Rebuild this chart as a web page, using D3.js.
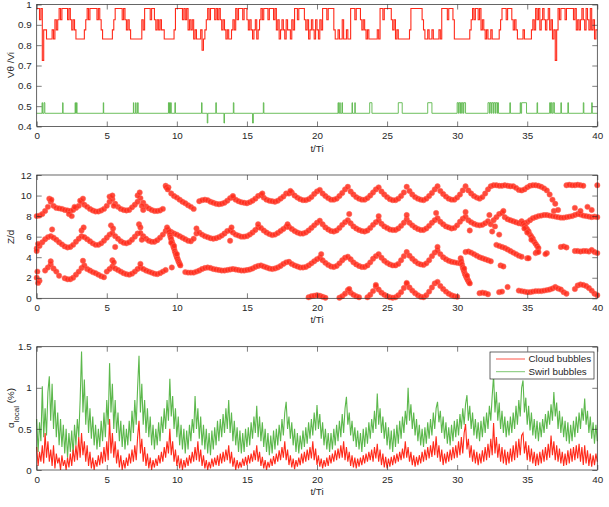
<!DOCTYPE html>
<html>
<head>
<meta charset="utf-8">
<script src="https://cdn.jsdelivr.net/npm/d3@7"></script>
<style>
  body { margin: 0; background: #fff; }
  text { font-family: "Liberation Sans", Arial, sans-serif; }
</style>
</head>
<body>
<div id="wrapper"></div>
<script>
// ---- data ----
const timeTicks = [0, 5, 10, 15, 20, 25, 30, 35, 40]
const velTicks = [0.4, 0.5, 0.6, 0.7, 0.8, 0.9, 1]
const zTicks = [0, 2, 4, 6, 8, 10, 12]
const alphaTicks = [0, 0.5, 1, 1.5]
const legendLabels = ["Cloud bubbles", "Swirl bubbles"]

// top panel, cloud bubbles: level index every 0.1 t/Ti
const velStep = 0.1
const velLevels = [0.83, 0.875, 0.925, 0.98, 0.725, 0.775]
const velCloud = [
  3,3,2,3,4,1,1,0,0,0,
  0,1,0,2,1,2,3,2,3,3,
  3,3,2,3,2,1,2,1,0,0,
  0,0,0,0,1,2,3,2,3,3,
  3,3,3,2,3,2,1,0,0,0,
  0,0,0,0,1,2,3,3,3,3,
  3,2,3,2,1,2,1,0,0,0,
  0,0,0,0,0,2,1,3,3,3,
  3,2,3,3,2,1,2,1,2,1,
  1,0,0,0,0,0,0,0,1,3,
  3,3,3,3,2,3,2,3,1,2,
  1,2,0,1,0,0,0,1,5,0,
  1,2,3,2,3,3,3,2,3,2,
  3,2,1,2,1,0,1,0,0,1,
  2,1,3,2,3,3,3,2,3,3,
  2,1,2,1,0,1,2,0,1,2,
  3,2,3,3,3,2,3,3,3,2,
  3,1,2,0,1,2,1,0,2,1,
  1,0,2,1,3,3,2,3,3,3,
  3,2,1,2,0,1,2,1,0,2,
  1,0,2,1,3,3,3,2,3,3,
  3,3,1,0,0,1,0,0,2,0,
  0,1,0,0,3,3,3,2,3,3,
  3,2,1,2,1,0,1,0,0,0,
  0,0,0,1,0,3,3,2,3,3,
  3,3,3,2,1,2,0,1,0,0,
  0,0,0,0,0,0,1,3,3,3,
  3,3,3,3,3,2,1,0,0,1,
  0,0,1,0,0,0,0,1,0,3,
  3,3,3,2,3,3,3,2,0,0,
  0,0,0,0,0,0,0,0,0,1,
  2,3,2,3,3,2,3,1,2,1,
  0,1,0,0,1,0,0,0,0,0,
  1,2,3,3,3,2,3,3,3,2,
  1,2,1,0,0,0,0,1,0,0,
  0,0,0,1,2,1,3,2,3,1,
  2,3,2,1,2,3,1,2,0,1,
  4,1,3,2,3,3,3,2,3,3,
  3,3,3,2,3,1,2,1,2,3,
  2,1,3,2,1,3,1,2,0,1,
  1
]

// top panel, swirl bubbles: base level with short excursions [start, end]
const swirlBase = 0.465
const swirlHighLevel = 0.517
const swirlLowLevel = 0.417
const swirlHighSpans = [
  [0.38,0.42],[0.52,0.58],[1.85,1.88],[2.74,2.77],[2.84,2.88],[4.75,4.78],
  [6.9,6.93],[7.06,7.09],[7.2,7.24],[9.4,9.44],[9.48,9.52],[9.56,9.6],[9.86,9.9],
  [11.76,11.8],[12.78,12.82],[14.03,14.07],[16.17,16.21],
  [21.5,21.54],[21.62,21.66],[21.78,21.82],[22.5,22.53],[22.7,22.73],[23.76,23.92],
  [25.8,26.08],[27.9,28.2],
  [30.0,30.08],[30.12,30.2],[30.24,30.32],[30.36,30.44],[30.48,30.6],
  [32.2,32.3],[32.34,32.42],[32.46,32.56],[32.6,32.7],[32.74,32.84],[32.88,32.95],
  [33.76,33.8],[34.5,34.54],[34.6,34.95],[35.7,35.74],
  [36.6,36.66],[36.72,36.78],[36.86,36.94],[37.4,37.44],[37.9,37.94],[39.0,39.04],[39.6,39.64]
]
const swirlLowSpans = [[12.17,12.21],[13.36,13.4],[15.4,15.46]]

// middle panel: bubble heights Z/d every 0.2 t/Ti (null = no bubble)
const trackStep = 0.2
const trackA = [
  8.0,8.05,8.2,8.5,8.9,9.4,9.0,8.8,8.75,8.7,
  8.6,8.55,8.5,8.6,8.8,9.0,9.4,9.1,8.9,8.7,
  8.55,8.45,8.45,8.55,8.7,9.0,9.4,9.65,9.2,8.9,
  8.7,8.6,8.55,8.6,8.85,9.1,9.4,9.75,9.3,8.95,
  8.75,8.6,8.5,8.5,8.55,8.7,10.95,10.8,10.2,9.95,
  9.8,9.6,9.4,9.25,9.05,8.9,8.7,null,9.45,9.55,
  9.6,9.55,9.4,9.3,9.2,9.15,9.2,9.3,9.5,9.75,
  9.8,9.6,9.45,9.35,9.3,9.25,9.35,9.5,9.7,9.95,
  10.05,9.8,9.6,9.5,9.45,9.4,9.5,9.7,9.9,10.2,
  10.2,10.3,10.0,9.8,9.65,9.55,9.55,9.65,9.85,10.15,
  10.4,10.55,10.2,9.95,9.75,9.6,9.6,9.7,9.95,10.25,
  10.6,10.85,10.4,10.1,9.85,9.7,9.6,9.6,9.75,10.0,
  10.3,10.6,10.8,10.4,10.1,9.85,9.65,9.55,9.55,9.7,
  9.95,10.3,10.85,10.45,10.1,9.85,9.7,9.6,9.55,9.7,
  9.95,10.25,10.6,10.9,10.45,10.15,9.9,9.7,9.6,9.6,
  9.8,10.1,10.5,10.9,10.5,10.2,9.95,9.8,9.7,9.85,
  10.2,10.6,10.9,11.0,11.0,10.95,10.95,11.0,10.95,10.9,
  10.9,10.75,10.55,10.5,10.6,10.8,10.95,11.0,11.0,10.95,
  10.85,10.7,10.5,10.1,9.6,9.2,null,null,null,11.0,
  11.05,11.0,11.0,11.05,11.0,10.95,null,null,null,null,
  11.0
]
const trackB = [
  4.85,5.1,5.45,5.75,5.95,6.05,5.9,5.7,5.45,5.25,
  5.05,4.95,5.0,5.2,5.5,5.8,6.05,5.95,5.75,5.55,
  5.35,5.2,5.2,5.35,5.6,5.9,6.2,6.35,6.05,5.8,
  5.55,5.4,5.35,5.45,5.7,6.0,6.3,6.35,6.05,5.8,
  5.6,5.5,5.5,5.65,5.9,6.2,6.55,6.65,6.45,6.3,
  6.2,6.05,5.9,5.75,5.6,5.55,5.8,6.3,6.4,6.2,
  6.05,5.95,5.85,5.8,5.85,5.95,6.1,6.3,6.55,6.6,
  6.4,6.2,6.1,6.0,6.0,6.05,6.2,6.4,6.65,6.9,
  6.85,6.6,6.4,6.25,6.15,6.2,6.35,6.55,6.75,6.95,
  6.95,6.75,6.55,6.4,6.3,6.3,6.4,6.6,6.85,7.1,
  7.35,7.55,7.2,6.9,6.7,6.55,6.5,6.6,6.85,7.15,
  7.4,7.6,7.3,7.0,6.8,6.65,6.55,6.5,6.6,6.85,
  7.15,7.4,7.6,7.25,7.0,6.85,6.7,6.65,6.65,6.8,
  7.05,7.35,7.7,7.35,7.1,6.9,6.75,6.65,6.65,6.8,
  7.05,7.35,7.6,7.8,7.45,7.2,7.0,6.9,6.8,6.85,
  7.1,7.45,7.75,7.95,7.6,7.4,7.25,7.15,7.1,7.15,
  7.3,7.5,7.2,7.6,7.9,8.2,8.3,7.9,7.7,7.6,
  7.5,7.4,7.3,7.25,7.3,7.4,7.6,7.8,7.9,8.0,
  8.05,8.1,8.1,8.05,8.0,7.95,7.9,7.85,7.85,7.9,
  7.95,8.0,8.1,8.2,8.15,8.05,8.0,7.95,7.9,7.95,
  7.9
]
const trackC = [
  2.0,1.7,null,2.7,3.0,3.3,2.9,2.6,2.2,null,
  1.95,1.85,1.85,2.0,2.3,2.6,2.95,3.2,2.85,2.7,
  2.55,2.45,2.3,2.15,2.05,2.6,2.85,3.1,2.9,2.75,
  2.6,2.45,2.35,2.3,2.4,2.6,2.85,3.0,2.85,2.7,
  2.6,2.5,2.4,2.35,2.45,2.6,2.75,null,null,null,
  null,null,null,2.55,2.5,2.5,2.5,2.6,2.7,2.85,
  2.95,3.0,2.95,2.85,2.8,2.75,2.7,2.7,2.75,2.8,
  2.85,2.8,2.75,2.7,2.7,2.75,2.8,2.9,3.05,3.15,
  3.2,3.1,3.0,2.9,2.85,2.9,3.0,3.15,3.35,3.5,
  3.55,3.35,3.2,3.1,3.0,3.0,3.05,3.2,3.4,3.6,
  3.8,3.95,3.7,3.45,3.25,3.1,3.05,3.15,3.4,3.7,
  3.95,4.05,3.8,3.5,3.3,3.15,3.05,3.05,3.2,3.5,
  3.85,4.1,4.3,3.95,3.65,3.45,3.3,3.2,3.2,3.35,
  3.7,4.1,4.5,4.15,3.85,3.6,3.4,3.3,3.25,3.4,
  3.7,4.1,4.45,4.65,4.3,4.0,3.8,3.65,3.55,3.5,
  3.45,3.4,null,4.5,4.55,4.45,4.3,4.15,4.0,3.9,
  3.8,3.7,3.6,null,5.2,5.1,5.0,4.9,4.75,4.6,
  4.45,4.3,4.15,4.05,null,3.9,null,null,4.4,null,
  null,null,4.4,null,null,null,null,5.0,5.05,4.95,
  null,null,4.6,4.6,4.55,4.6,4.6,4.55,4.7,4.5,
  4.4
]
const trackD = [
  null,null,null,null,null,null,null,null,null,null,
  null,null,null,null,null,null,null,null,null,null,
  null,null,null,null,null,null,null,null,null,null,
  null,null,null,null,null,null,null,null,null,null,
  null,null,null,null,null,null,null,null,null,null,
  null,null,null,null,null,null,null,null,null,null,
  null,null,null,null,null,null,null,null,null,null,
  null,null,null,null,null,null,null,null,null,null,
  null,null,null,null,null,null,null,null,null,null,
  null,null,null,null,null,null,null,0.1,0.2,0.25,
  0.3,0.25,0.15,0.05,null,null,null,null,0.05,0.2,
  0.45,0.8,0.55,0.35,0.2,0.1,null,null,0.1,0.35,
  0.7,1.15,0.85,0.55,0.35,0.2,0.1,0.05,0.1,0.3,
  0.6,1.0,1.4,1.05,0.75,0.5,0.3,0.15,0.1,0.3,
  0.65,1.05,1.45,1.6,1.2,0.9,0.65,0.45,0.3,0.2,
  0.15,null,null,null,null,null,null,null,0.5,0.55,
  0.5,0.4,null,null,null,0.6,0.65,null,1.1,null,
  null,null,0.75,0.7,0.65,0.6,0.6,0.65,0.7,0.7,
  0.7,0.75,0.8,0.85,0.95,1.1,0.95,0.85,0.6,0.45,
  null,null,0.9,1.25,1.35,1.3,1.2,1.0,0.75,0.45,
  0.3
]
// falling bubbles and scattered detections [t/Ti, Z/d]
const strayPoints = [
  [9.45,6.5],[9.5,6.2],[9.55,5.95],[9.6,5.75],[9.65,5.5],[9.7,5.3],[9.75,5.05],[9.8,4.85],
  [9.85,4.6],[9.9,4.4],[9.95,4.2],[10.0,4.0],[10.05,3.85],[10.1,3.65],[10.15,3.5],[10.2,3.35],
  [10.25,3.2],[9.6,5.4],[9.8,5.1],[10.0,4.3],
  [30.25,3.9],[30.3,3.6],[30.35,3.3],[30.4,3.0],[30.45,2.8],[30.5,2.6],[30.55,2.4],[30.6,2.25],
  [30.65,2.1],[30.7,1.95],[30.75,1.8],[30.8,1.7],[30.85,1.55],[30.9,1.45],[30.5,2.9],[30.7,2.2],
  [34.6,7.5],[34.7,7.3],[34.8,7.1],[34.9,6.9],[35.0,6.7],[35.1,6.5],[35.2,6.2],[35.3,6.0],
  [35.4,5.8],[35.5,5.5],[35.6,5.3],[35.7,5.1],[35.8,4.9],[34.8,6.8],[35.0,6.4],[35.3,5.7],
  [35.7,4.5],[36.3,4.3],
  [0.9,9.7],[1.05,9.6],[2.3,8.2],[2.5,8.0],[2.7,8.9],[3.1,9.5],[3.3,9.7],[5.2,9.9],[5.4,10.0],
  [5.5,9.0],[7.2,10.0],[7.35,10.3],[7.5,9.0],[7.6,8.6],[14.0,9.95],[16.1,10.2],[18.1,10.45],
  [9.25,10.8],[9.35,10.6],
  [0.0,4.6],[0.1,5.3],[1.1,6.7],[3.2,6.6],[3.35,6.9],[5.3,7.1],[5.45,6.8],[5.6,5.0],[7.3,7.2],
  [7.4,6.9],[7.5,5.7],[9.3,6.9],[11.4,6.8],[13.8,5.6],[13.9,6.9],[15.8,7.2],[17.9,7.2],
  [22.3,8.2],[24.4,8.0],[26.4,8.1],[28.5,8.3],[30.6,8.4],[32.3,8.1],[32.5,6.5],[32.7,7.0],
  [33.0,6.2],[33.3,8.5],[36.9,8.5],[37.2,8.6],[38.4,8.8],[38.8,8.5],[39.3,8.9],[39.6,8.6],[30.9,6.6],
  [0.05,2.6],[0.1,1.5],[1.0,3.6],[3.3,3.65],[5.4,3.7],[5.5,3.5],[7.4,3.35],[9.64,3.0],[28.6,5.0],
  [20.3,4.3],[33.1,3.2],[33.3,3.1],[35.1,3.9],[35.8,4.5],
  [22.3,0.9],[24.2,1.3],[26.4,1.5]
]

// bottom panel: local void fraction (%) every 0.1 t/Ti
const alphaStep = 0.1
const alphaSwirl = [
  0.62,0.22,0.58,0.35,1.02,0.4,0.75,0.42,0.95,1.14,
  0.6,1.05,0.5,0.85,0.4,0.7,0.3,0.62,0.28,0.55,
  0.2,0.5,0.15,0.45,0.22,0.48,0.18,0.55,0.3,0.62,
  0.4,0.85,1.44,0.7,1.1,0.55,0.9,0.45,0.75,0.38,
  0.65,0.3,0.55,0.25,0.5,0.28,0.6,0.35,0.7,0.4,
  0.85,0.55,1.3,0.7,1.05,0.5,0.85,0.45,0.7,0.35,
  0.6,0.28,0.55,0.25,0.5,0.3,0.6,0.35,0.72,0.45,
  0.85,0.55,1.0,1.39,0.7,1.05,0.55,0.85,0.45,0.75,
  0.4,0.65,0.3,0.55,0.25,0.5,0.3,0.58,0.35,0.65,
  0.45,0.75,0.5,0.85,0.6,1.11,0.65,0.9,0.5,0.75,
  0.4,0.65,0.3,0.55,0.25,0.5,0.2,0.48,0.25,0.55,
  0.35,0.62,0.45,0.9,0.5,0.75,0.38,0.65,0.3,0.55,
  0.25,0.5,0.2,0.45,0.18,0.48,0.25,0.52,0.3,0.6,
  0.35,0.62,0.4,0.68,0.45,0.75,0.5,0.85,0.45,0.7,
  0.35,0.6,0.3,0.52,0.22,0.48,0.2,0.45,0.22,0.5,
  0.28,0.52,0.3,0.58,0.38,0.65,0.45,0.78,0.4,0.65,
  0.35,0.58,0.28,0.5,0.22,0.45,0.18,0.42,0.2,0.48,
  0.25,0.5,0.3,0.55,0.35,0.62,0.42,0.7,0.83,0.5,
  0.65,0.38,0.58,0.3,0.5,0.22,0.45,0.2,0.42,0.25,
  0.48,0.28,0.52,0.32,0.58,0.38,0.62,0.42,0.7,0.48,
  0.79,0.5,0.68,0.38,0.58,0.3,0.5,0.25,0.45,0.22,
  0.45,0.25,0.5,0.3,0.55,0.35,0.6,0.4,0.68,0.45,
  0.75,0.89,0.55,0.7,0.42,0.6,0.35,0.52,0.28,0.48,
  0.25,0.45,0.22,0.5,0.28,0.52,0.32,0.58,0.38,0.62,
  0.45,0.72,0.5,0.93,0.55,0.75,0.45,0.65,0.38,0.58,
  0.3,0.52,0.25,0.48,0.22,0.5,0.28,0.55,0.32,0.6,
  0.38,0.65,0.45,0.72,0.55,1.0,0.6,0.8,0.5,0.7,
  0.42,0.62,0.35,0.55,0.3,0.5,0.28,0.52,0.32,0.58,
  0.38,0.62,0.42,0.7,0.5,0.75,0.83,0.58,0.72,0.45,
  0.65,0.38,0.58,0.32,0.52,0.3,0.55,0.35,0.6,0.4,
  0.62,0.42,0.68,0.5,0.75,0.55,0.8,0.91,0.6,0.78,
  0.5,0.7,0.42,0.62,0.38,0.58,0.35,0.6,0.4,0.65,
  0.45,0.7,0.5,0.78,0.6,0.9,1.15,0.7,0.95,0.6,
  0.82,0.5,0.72,0.45,0.65,0.4,0.6,0.42,0.65,0.45,
  0.7,0.5,0.78,0.55,0.85,0.65,1.0,1.09,0.7,0.88,
  0.55,0.78,0.48,0.7,0.42,0.62,0.38,0.6,0.35,0.58,
  0.4,0.62,0.45,0.68,0.5,0.72,0.55,0.8,0.6,0.95,
  0.65,0.82,0.5,0.72,0.45,0.65,0.4,0.6,0.35,0.58,
  0.32,0.55,0.35,0.6,0.4,0.65,0.45,0.7,0.5,0.75,
  0.6,0.87,0.55,0.72,0.45,0.65,0.38,0.58,0.32,0.55,
  0.35
]
const alphaCloud = [
  0.28,0.05,0.22,0.1,0.3,0.08,0.45,0.15,0.35,0.1,
  0.25,0.05,0.3,0.02,0.2,0.08,0.15,0.0,0.18,0.05,
  0.12,0.0,0.15,0.03,0.2,0.05,0.25,0.1,0.3,0.12,
  0.4,0.15,0.45,0.18,0.35,0.1,0.3,0.05,0.22,0.02,
  0.15,0.0,0.12,0.04,0.18,0.06,0.22,0.08,0.28,0.1,
  0.35,0.12,0.62,0.2,0.45,0.15,0.35,0.08,0.25,0.03,
  0.18,0.0,0.12,0.02,0.15,0.05,0.2,0.08,0.25,0.1,
  0.3,0.12,0.4,0.6,0.2,0.38,0.1,0.28,0.05,0.2,
  0.02,0.15,0.0,0.12,0.03,0.14,0.05,0.18,0.08,0.22,
  0.1,0.28,0.15,0.35,0.2,0.5,0.18,0.35,0.1,0.25,
  0.05,0.18,0.02,0.14,0.0,0.12,0.03,0.15,0.05,0.18,
  0.08,0.22,0.1,0.28,0.12,0.35,0.1,0.25,0.05,0.18,
  0.02,0.12,0.0,0.1,0.02,0.14,0.04,0.15,0.06,0.18,
  0.05,0.2,0.08,0.22,0.1,0.25,0.12,0.3,0.08,0.22,
  0.04,0.15,0.0,0.12,0.02,0.1,0.03,0.14,0.05,0.16,
  0.06,0.18,0.08,0.2,0.1,0.24,0.12,0.3,0.1,0.22,
  0.05,0.16,0.02,0.12,0.0,0.1,0.03,0.14,0.05,0.17,
  0.07,0.2,0.1,0.24,0.12,0.28,0.15,0.35,0.12,0.25,
  0.06,0.18,0.03,0.14,0.01,0.12,0.04,0.15,0.06,0.2,
  0.08,0.22,0.1,0.25,0.12,0.28,0.14,0.35,0.12,0.26,
  0.06,0.18,0.04,0.14,0.02,0.12,0.04,0.15,0.05,0.18,
  0.08,0.2,0.1,0.24,0.12,0.26,0.14,0.3,0.15,0.35,
  0.12,0.28,0.1,0.22,0.05,0.18,0.03,0.15,0.02,0.14,
  0.04,0.15,0.06,0.18,0.08,0.2,0.1,0.22,0.12,0.25,
  0.1,0.28,0.14,0.32,0.1,0.25,0.06,0.2,0.03,0.16,
  0.02,0.14,0.04,0.16,0.06,0.18,0.08,0.2,0.1,0.22,
  0.12,0.26,0.14,0.35,0.15,0.28,0.1,0.22,0.06,0.18,
  0.04,0.16,0.06,0.18,0.08,0.22,0.1,0.25,0.12,0.28,
  0.14,0.3,0.16,0.35,0.18,0.41,0.15,0.3,0.1,0.25,
  0.06,0.2,0.08,0.22,0.1,0.25,0.12,0.28,0.14,0.3,
  0.15,0.35,0.18,0.4,0.2,0.45,0.56,0.25,0.38,0.15,
  0.3,0.1,0.25,0.08,0.22,0.06,0.2,0.08,0.24,0.1,
  0.28,0.12,0.32,0.15,0.38,0.18,0.57,0.2,0.4,0.15,
  0.32,0.1,0.28,0.08,0.25,0.06,0.22,0.08,0.26,0.1,
  0.3,0.12,0.35,0.15,0.38,0.18,0.42,0.45,0.2,0.35,
  0.12,0.3,0.1,0.26,0.08,0.22,0.05,0.2,0.06,0.22,
  0.08,0.25,0.1,0.28,0.12,0.32,0.15,0.42,0.18,0.35,
  0.12,0.3,0.1,0.26,0.08,0.22,0.05,0.2,0.06,0.24,
  0.08,0.26,0.1,0.28,0.12,0.3,0.14,0.32,0.1,0.28,
  0.06,0.3,0.08,0.24,0.05,0.2,0.04,0.18,0.06,0.2,
  0.1
]

const red = "#ff2a1a"
const green = "#5cb84c"
const axisColor = "#262626"

function drawChart() {

  const dimensions = {
    width: 609,
    height: 507,
    left: 36.7,
    right: 597.3,
    panels: {
      vel: { top: 4.5, bottom: 126.5 },
      z: { top: 175, bottom: 298.3 },
      alpha: { top: 346.7, bottom: 470 },
    },
  }

  const svg = d3.select("#wrapper")
    .append("svg")
      .attr("width", dimensions.width)
      .attr("height", dimensions.height)

  const xScale = d3.scaleLinear()
      .domain([0, 40])
      .range([dimensions.left, dimensions.right])

  const velScale = d3.scaleLinear()
      .domain([0.4, 1])
      .range([dimensions.panels.vel.bottom, dimensions.panels.vel.top])
  const zScale = d3.scaleLinear()
      .domain([0, 12])
      .range([dimensions.panels.z.bottom, dimensions.panels.z.top])
  const alphaScale = d3.scaleLinear()
      .domain([0, 1.5])
      .range([dimensions.panels.alpha.bottom, dimensions.panels.alpha.top])

  // ---- top panel ----
  const cloudVel = velCloud.map((c, i) => [i * velStep, velLevels[c]])
  const swirlSpans = swirlHighSpans.map(s => [s[0], s[1], swirlHighLevel])
    .concat(swirlLowSpans.map(s => [s[0], s[1], swirlLowLevel]))
    .sort((a, b) => a[0] - b[0])
  const swirlVel = [[0, swirlBase]]
  swirlSpans.forEach(([s, e, v]) => {
    swirlVel.push([s, swirlBase], [s, v], [e, v], [e, swirlBase])
  })
  swirlVel.push([40, swirlBase])

  svg.append("path")
      .datum(swirlVel)
      .attr("d", d3.line().x(d => xScale(d[0])).y(d => velScale(d[1])))
      .attr("fill", "none")
      .attr("stroke", green)
      .attr("stroke-width", 0.9)

  svg.append("path")
      .datum(cloudVel)
      .attr("d", d3.line().x(d => xScale(d[0])).y(d => velScale(d[1])).curve(d3.curveStepAfter))
      .attr("fill", "none")
      .attr("stroke", red)
      .attr("stroke-width", 1.1)

  // ---- middle panel ----
  const bubbles = [trackA, trackB, trackC, trackD]
    .flatMap(track => track.map((z, i) => [i * trackStep, z]).filter(d => d[1] !== null))
    .concat(strayPoints)

  svg.append("g")
    .selectAll("circle")
    .data(bubbles)
    .join("circle")
      .attr("cx", d => xScale(d[0]))
      .attr("cy", d => zScale(d[1]))
      .attr("r", 2.7)
      .attr("fill", red)
      .attr("fill-opacity", 0.85)
      .attr("stroke", "#ff6a5c")
      .attr("stroke-width", 0.5)

  // ---- bottom panel ----
  const alphaLine = d3.line()
      .x((d, i) => xScale(i * alphaStep))
      .y(d => alphaScale(d))

  svg.append("path")
      .datum(alphaSwirl)
      .attr("d", alphaLine)
      .attr("fill", "none")
      .attr("stroke", green)
      .attr("stroke-width", 1.1)

  svg.append("path")
      .datum(alphaCloud)
      .attr("d", alphaLine)
      .attr("fill", "none")
      .attr("stroke", red)
      .attr("stroke-width", 1.1)

  // ---- axes ----
  function drawAxes(yScale, yTicks, panel) {
    const g = svg.append("g")
    g.append("g")
        .attr("transform", `translate(0,${panel.bottom})`)
        .call(d3.axisBottom(xScale).tickValues(timeTicks).tickSizeInner(-5).tickSizeOuter(0).tickPadding(6))
    g.append("g")
        .attr("transform", `translate(0,${panel.top})`)
        .call(d3.axisTop(xScale).tickValues(timeTicks).tickSizeInner(-5).tickSizeOuter(0).tickFormat(""))
    g.append("g")
        .attr("transform", `translate(${dimensions.left},0)`)
        .call(d3.axisLeft(yScale).tickValues(yTicks).tickSizeInner(-5).tickSizeOuter(0).tickPadding(5).tickFormat(d3.format("~g")))
    g.append("g")
        .attr("transform", `translate(${dimensions.right},0)`)
        .call(d3.axisRight(yScale).tickValues(yTicks).tickSizeInner(-5).tickSizeOuter(0).tickFormat(""))
    g.selectAll(".domain").remove()
    g.selectAll(".tick line").attr("stroke", axisColor).attr("stroke-width", 0.6)
    g.selectAll("g").attr("font-family", null).attr("font-size", null)
    g.selectAll(".tick text").attr("fill", axisColor).style("font-size", "9.8px")
    g.append("rect")
        .attr("x", dimensions.left)
        .attr("y", panel.top)
        .attr("width", dimensions.right - dimensions.left)
        .attr("height", panel.bottom - panel.top)
        .attr("fill", "none")
        .attr("stroke", axisColor)
        .attr("stroke-width", 0.7)
    g.append("text")
        .attr("x", (dimensions.left + dimensions.right) / 2)
        .attr("y", panel.bottom + 25)
        .attr("text-anchor", "middle")
        .attr("fill", axisColor)
        .style("font-size", "9.8px")
        .text("t/Ti")
  }

  drawAxes(velScale, velTicks, dimensions.panels.vel)
  drawAxes(zScale, zTicks, dimensions.panels.z)
  drawAxes(alphaScale, alphaTicks, dimensions.panels.alpha)

  function yLabel(cy) {
    return svg.append("text")
        .attr("transform", `translate(14,${cy}) rotate(-90)`)
        .attr("text-anchor", "middle")
        .attr("fill", axisColor)
        .style("font-size", "9.8px")
  }
  yLabel(65).text("Vθ /Vi")
  yLabel(237).text("Z/d")
  const alphaLabel = yLabel(408)
  alphaLabel.append("tspan").text("α")
  alphaLabel.append("tspan").attr("baseline-shift", "sub").style("font-size", "8px").text("local")
  alphaLabel.append("tspan").text(" (%)")

  // ---- legend ----
  const legend = svg.append("g")
  legend.append("rect")
      .attr("x", 490)
      .attr("y", 352)
      .attr("width", 104)
      .attr("height", 27)
      .attr("fill", "#fff")
      .attr("stroke", axisColor)
      .attr("stroke-width", 0.7)
  const legendItems = legend.selectAll("g.item")
    .data(legendLabels)
    .join("g")
      .attr("class", "item")
      .attr("transform", (d, i) => `translate(0,${359 + i * 12.7})`)
  legendItems.append("line")
      .attr("x1", 496)
      .attr("x2", 525)
      .attr("stroke", (d, i) => i === 0 ? red : green)
      .attr("stroke-width", 0.8)
  legendItems.append("text")
      .attr("x", 528.5)
      .attr("dy", "0.35em")
      .attr("fill", axisColor)
      .style("font-size", "9.8px")
      .text(d => d)
}

drawChart()
</script>
</body>
</html>
